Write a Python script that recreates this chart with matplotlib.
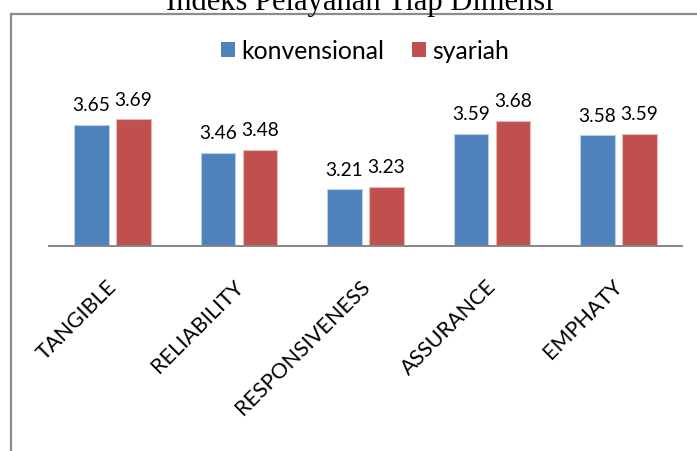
import matplotlib
matplotlib.use('Agg')
import matplotlib.pyplot as plt
import matplotlib.transforms as mtransforms
import numpy as np
from matplotlib.patches import Patch
from matplotlib.lines import Line2D

categories = ['TANGIBLE', 'RELIABILITY', 'RESPONSIVENESS', 'ASSURANCE', 'EMPHATY']
konvensional = [3.65, 3.46, 3.21, 3.59, 3.58]
syariah = [3.69, 3.48, 3.23, 3.68, 3.59]
series_names = ['konvensional', 'syariah']
title = 'Indeks Pelayanan Tiap Dimensi'

W, H = 697, 452
fig = plt.figure(figsize=(W / 100, H / 100), dpi=100)
fig.patch.set_facecolor('white')

ax_left, ax_right, ax_bottom, ax_top = 49.3, 681.8, 247.3, 20
ax = fig.add_axes([ax_left / W, 1 - ax_bottom / H, (ax_right - ax_left) / W, (ax_bottom - ax_top) / H])

blue, red = '#4F81BD', '#C0504D'
x = np.arange(len(categories))
w, off = 0.271, 0.166
b1 = ax.bar(x - off, konvensional, w, color=blue, edgecolor='#b9cde5', linewidth=0.8)
b2 = ax.bar(x + off, syariah, w, color=red, edgecolor='#e6b9b8', linewidth=0.8)

ax.set_xlim(-0.5, len(categories) - 0.5)
ax.set_ylim(2.822, 4.374)

for bars in (b1, b2):
    ax.bar_label(bars, fmt='%.2f', padding=8.4, fontsize=13.8, family='Lato', color='#000000')

for s in ('top', 'left', 'right'):
    ax.spines[s].set_visible(False)
ax.spines['bottom'].set_color('#868686')
ax.spines['bottom'].set_linewidth(1.4)
ax.set_yticks([])
ax.set_xticks(x, categories)
ax.tick_params(axis='x', length=0, pad=21, labelsize=15.5)
shift = mtransforms.ScaledTranslation(-6 / 100, 0, fig.dpi_scale_trans)
for lab in ax.get_xticklabels():
    lab.set_family('Lato')
    lab.set_rotation(45)
    lab.set_rotation_mode('anchor')
    lab.set_ha('right')
    lab.set_va('top')
    lab.set_transform(lab.get_transform() + shift)

handles = [Patch(facecolor=blue, edgecolor='none'), Patch(facecolor=red, edgecolor='none')]
fig.legend(handles=handles, labels=series_names, loc='center',
           bbox_to_anchor=(365.0 / W, 1 - 51.5 / H), ncol=2, frameon=False,
           prop={'family': 'Lato', 'size': 17.8}, handlelength=0.59, handleheight=0.59,
           handletextpad=0.25, columnspacing=1.1, borderpad=0, borderaxespad=0)

fig.text(360 / W, 1 - 10 / H, title, ha='center', va='baseline',
         family='Liberation Serif', fontsize=22, color='#000000')

fx = 11 / W
fy = 1 - 15 / H
fig.add_artist(Line2D([fx, fx], [0, fy], transform=fig.transFigure, color='#8c8c8c', lw=1.6))
fig.add_artist(Line2D([fx, 1], [fy, fy], transform=fig.transFigure, color='#8c8c8c', lw=1.6))

fig.savefig('out.png', dpi=100, facecolor='white')
